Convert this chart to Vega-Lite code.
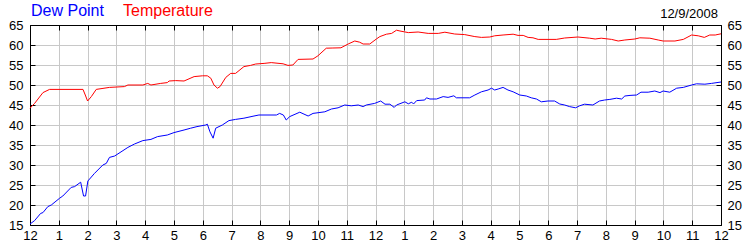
{
  "$schema": "https://vega.github.io/schema/vega-lite/v6.json",
  "width": 691,
  "height": 200,
  "autosize": {"type": "none"},
  "padding": {"left": 30, "top": 25, "right": 29, "bottom": 25},
  "background": "white",
  "title": {"text": "12/9/2008", "anchor": "end", "frame": "group", "fontSize": 13, "fontWeight": "normal", "font": "Liberation Sans", "color": "black", "baseline": "bottom", "offset": -31, "dx": -3},
  "datasets": {
    "dew": [
      {"h":0,"v":15.25},{"h":0.16,"v":16.1},{"h":0.37,"v":17.9},{"h":0.45,"v":18.1},{"h":0.62,"v":19.6},{"h":0.74,"v":20.0},{"h":1.03,"v":21.7},{"h":1.14,"v":22.25},{"h":1.43,"v":24.4},{"h":1.55,"v":24.6},{"h":1.76,"v":25.7},{"h":1.86,"v":22.25},{"h":1.93,"v":22.25},{"h":2.01,"v":26.0},{"h":2.24,"v":27.9},{"h":2.53,"v":30.0},{"h":2.65,"v":30.4},{"h":2.76,"v":31.9},{"h":2.94,"v":32.25},{"h":3.23,"v":33.6},{"h":3.4,"v":34.4},{"h":3.63,"v":35.25},{"h":3.92,"v":36.1},{"h":4.2,"v":36.4},{"h":4.43,"v":37.1},{"h":4.77,"v":37.5},{"h":5.0,"v":38.1},{"h":5.35,"v":38.75},{"h":5.58,"v":39.2},{"h":5.8,"v":39.6},{"h":6.1,"v":40.0},{"h":6.16,"v":40.2},{"h":6.25,"v":38.3},{"h":6.36,"v":36.7},{"h":6.45,"v":39.2},{"h":6.68,"v":40.0},{"h":6.91,"v":41.1},{"h":7.14,"v":41.4},{"h":7.43,"v":41.7},{"h":7.78,"v":42.25},{"h":7.95,"v":42.5},{"h":8.56,"v":42.5},{"h":8.67,"v":42.9},{"h":8.8,"v":42.5},{"h":8.9,"v":41.25},{"h":9.02,"v":42.1},{"h":9.37,"v":43.2},{"h":9.66,"v":42.25},{"h":9.83,"v":42.9},{"h":10.24,"v":43.3},{"h":10.47,"v":44.0},{"h":10.7,"v":44.3},{"h":10.93,"v":45.0},{"h":11.16,"v":44.8},{"h":11.4,"v":45.0},{"h":11.57,"v":44.6},{"h":11.68,"v":45.0},{"h":11.97,"v":45.4},{"h":12.18,"v":46.0},{"h":12.33,"v":45.2},{"h":12.5,"v":45.2},{"h":12.65,"v":44.4},{"h":12.73,"v":45.0},{"h":13.02,"v":45.8},{"h":13.14,"v":45.3},{"h":13.26,"v":45.7},{"h":13.32,"v":45.25},{"h":13.43,"v":46.1},{"h":13.71,"v":46.25},{"h":13.77,"v":46.8},{"h":13.89,"v":46.5},{"h":14.12,"v":46.5},{"h":14.35,"v":47.1},{"h":14.52,"v":46.9},{"h":14.72,"v":47.3},{"h":14.81,"v":46.8},{"h":15.27,"v":46.8},{"h":15.45,"v":47.5},{"h":15.68,"v":48.3},{"h":15.91,"v":48.75},{"h":16.03,"v":49.2},{"h":16.14,"v":48.75},{"h":16.26,"v":49.0},{"h":16.43,"v":49.4},{"h":16.6,"v":48.75},{"h":16.78,"v":48.3},{"h":17.01,"v":47.5},{"h":17.24,"v":47.25},{"h":17.41,"v":46.8},{"h":17.59,"v":46.5},{"h":17.76,"v":45.8},{"h":17.99,"v":46.0},{"h":18.22,"v":46.0},{"h":18.4,"v":45.25},{"h":18.57,"v":45.0},{"h":18.74,"v":44.6},{"h":18.95,"v":44.3},{"h":19.09,"v":44.8},{"h":19.26,"v":45.2},{"h":19.55,"v":45.0},{"h":19.78,"v":46.0},{"h":19.96,"v":46.25},{"h":20.14,"v":46.4},{"h":20.37,"v":46.7},{"h":20.55,"v":46.5},{"h":20.66,"v":47.25},{"h":20.84,"v":47.4},{"h":21.07,"v":47.5},{"h":21.22,"v":48.2},{"h":21.47,"v":48.2},{"h":21.7,"v":48.5},{"h":21.88,"v":48.1},{"h":21.99,"v":48.5},{"h":22.22,"v":48.2},{"h":22.46,"v":49.2},{"h":22.69,"v":49.4},{"h":22.98,"v":50.0},{"h":23.15,"v":50.3},{"h":23.44,"v":50.2},{"h":23.67,"v":50.4},{"h":24.0,"v":50.75}
    ],
    "temp": [
      {"h":0,"v":44.2},{"h":0.16,"v":45.4},{"h":0.45,"v":48.1},{"h":0.68,"v":48.9},{"h":1.84,"v":48.9},{"h":1.92,"v":47.5},{"h":2.0,"v":46.0},{"h":2.13,"v":47.1},{"h":2.3,"v":48.9},{"h":2.76,"v":49.4},{"h":3.28,"v":49.6},{"h":3.4,"v":50.0},{"h":3.92,"v":50.0},{"h":4.09,"v":50.4},{"h":4.2,"v":50.0},{"h":4.54,"v":50.4},{"h":4.77,"v":50.6},{"h":4.83,"v":51.0},{"h":5.06,"v":51.1},{"h":5.35,"v":51.0},{"h":5.7,"v":52.1},{"h":5.99,"v":52.3},{"h":6.16,"v":52.3},{"h":6.28,"v":51.7},{"h":6.39,"v":50.0},{"h":6.51,"v":49.2},{"h":6.6,"v":49.6},{"h":6.8,"v":51.9},{"h":6.97,"v":52.9},{"h":7.14,"v":52.9},{"h":7.43,"v":54.6},{"h":7.66,"v":54.9},{"h":7.84,"v":55.25},{"h":8.13,"v":55.4},{"h":8.38,"v":55.6},{"h":8.79,"v":55.3},{"h":8.96,"v":54.9},{"h":9.13,"v":55.0},{"h":9.31,"v":56.4},{"h":9.83,"v":56.5},{"h":10.0,"v":57.3},{"h":10.29,"v":59.2},{"h":10.52,"v":59.25},{"h":10.8,"v":59.3},{"h":11.05,"v":60.25},{"h":11.28,"v":61.0},{"h":11.45,"v":60.7},{"h":11.57,"v":60.25},{"h":11.8,"v":60.25},{"h":12.03,"v":61.5},{"h":12.15,"v":62.1},{"h":12.38,"v":62.7},{"h":12.56,"v":62.9},{"h":12.73,"v":63.7},{"h":12.85,"v":63.5},{"h":13.14,"v":63.1},{"h":13.48,"v":63.25},{"h":13.83,"v":62.9},{"h":14.18,"v":62.9},{"h":14.41,"v":63.2},{"h":14.75,"v":62.75},{"h":15.1,"v":62.6},{"h":15.45,"v":62.1},{"h":15.68,"v":61.9},{"h":15.97,"v":62.0},{"h":16.14,"v":62.3},{"h":16.43,"v":62.5},{"h":16.78,"v":62.7},{"h":16.95,"v":62.4},{"h":17.13,"v":62.4},{"h":17.3,"v":61.9},{"h":17.47,"v":61.8},{"h":17.65,"v":61.4},{"h":18.28,"v":61.4},{"h":18.57,"v":61.75},{"h":19.03,"v":62.0},{"h":19.44,"v":61.7},{"h":19.63,"v":61.5},{"h":19.84,"v":61.7},{"h":20.2,"v":61.4},{"h":20.43,"v":61.0},{"h":20.66,"v":61.25},{"h":21.01,"v":61.5},{"h":21.18,"v":61.8},{"h":21.53,"v":61.7},{"h":21.82,"v":61.25},{"h":21.99,"v":61.0},{"h":22.4,"v":61.0},{"h":22.69,"v":61.4},{"h":22.98,"v":62.5},{"h":23.21,"v":62.3},{"h":23.42,"v":61.9},{"h":23.61,"v":62.5},{"h":23.8,"v":62.5},{"h":24.0,"v":62.8}
    ]
  },
  "layer": [
    {
      "data": {"name": "dew"},
      "mark": {"type": "line", "strokeWidth": 1},
      "encoding": {
        "x": {"field": "h", "type": "quantitative",
          "scale": {"domain": [0, 24], "nice": false, "zero": false},
          "axis": {"orient": "bottom", "title": null, "values": [0,1,2,3,4,5,6,7,8,9,10,11,12,13,14,15,16,17,18,19,20,21,22,23,24],
            "labelExpr": "datum.value % 12 === 0 ? '12' : '' + (datum.value % 12)",
            "grid": true, "gridColor": "#c8c8c8", "domainColor": "black", "tickColor": "black", "tickSize": -5,
            "labelPadding": 9, "labelFlush": false, "labelOverlap": false}},
        "y": {"field": "v", "type": "quantitative",
          "scale": {"domain": [15, 65], "nice": false, "zero": false},
          "axis": {"orient": "left", "title": null, "values": [15,20,25,30,35,40,45,50,55,60,65],
            "grid": true, "gridColor": "#c8c8c8", "domainColor": "black", "tickColor": "black", "tickSize": -5,
            "labelPadding": 12, "labelOverlap": false}},
        "color": {"datum": "Dew Point", "type": "nominal",
          "scale": {"domain": ["Dew Point", "Temperature"], "range": ["#0000ff", "#ff0000"]},
          "legend": {"title": null, "orient": "none", "legendX": -15, "legendY": -22, "direction": "horizontal",
            "symbolSize": 0, "symbolOpacity": 0, "symbolStrokeWidth": 0, "labelOffset": 0, "columnPadding": 3,
            "labelFontSize": 16, "labelFont": "Liberation Sans",
            "encode": {"labels": {"update": {"fill": {"signal": "datum.value === 'Dew Point' ? '#0000ff' : '#ff0000'"}}}}}}
      }
    },
    {
      "data": {"name": "temp"},
      "mark": {"type": "line", "strokeWidth": 1},
      "encoding": {
        "x": {"field": "h", "type": "quantitative",
          "scale": {"domain": [0, 24], "nice": false, "zero": false},
          "axis": {"orient": "top", "title": null, "values": [0,1,2,3,4,5,6,7,8,9,10,11,12,13,14,15,16,17,18,19,20,21,22,23,24],
            "labels": false, "grid": false, "domainColor": "black", "tickColor": "black", "tickSize": -5}},
        "y": {"field": "v", "type": "quantitative",
          "scale": {"domain": [15, 65], "nice": false, "zero": false},
          "axis": {"orient": "right", "title": null, "values": [15,20,25,30,35,40,45,50,55,60,65],
            "grid": false, "domainColor": "black", "tickColor": "black", "tickSize": -5,
            "labelPadding": 11, "labelOverlap": false}},
        "color": {"datum": "Temperature", "type": "nominal",
          "scale": {"domain": ["Dew Point", "Temperature"], "range": ["#0000ff", "#ff0000"]},
          "legend": {"title": null, "orient": "none", "legendX": -15, "legendY": -22, "direction": "horizontal",
            "symbolSize": 0, "symbolOpacity": 0, "symbolStrokeWidth": 0, "labelOffset": 0, "columnPadding": 3,
            "labelFontSize": 16, "labelFont": "Liberation Sans",
            "encode": {"labels": {"update": {"fill": {"signal": "datum.value === 'Dew Point' ? '#0000ff' : '#ff0000'"}}}}}}
      }
    }
  ],
  "resolve": {"axis": {"x": "independent", "y": "independent"}},
  "config": {
    "view": {"stroke": null},
    "axis": {"labelFont": "Liberation Sans", "labelFontSize": 13, "labelColor": "black"}
  }
}
